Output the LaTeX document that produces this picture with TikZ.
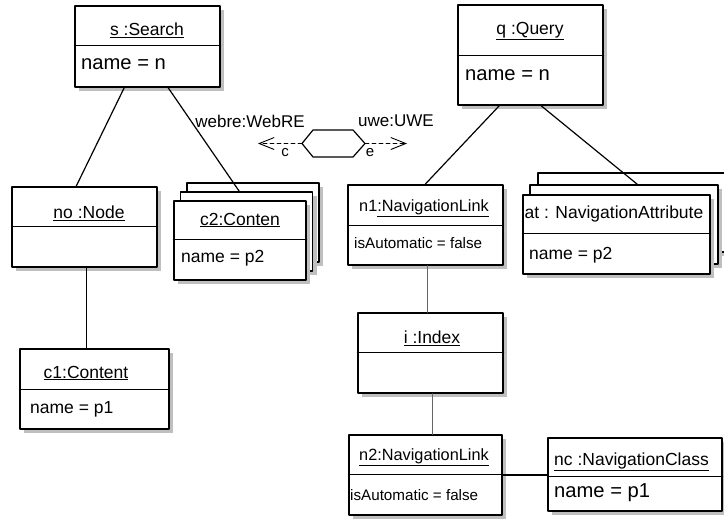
\documentclass[tikz,border=0pt]{standalone}
\usepackage{fontspec}
\setmainfont{Liberation Sans}
\usetikzlibrary{arrows.meta,calc}
\tikzset{
  obj/.style={rectangle, draw, fill=white, line width=1.6pt, inner sep=0pt,
    preaction={draw=none, fill=black!25, transform canvas={shift={(4pt,-4pt)}}}},
  ttl/.style={inner sep=1pt, font=\fontsize{17.5}{20}\selectfont},
  attr/.style={anchor=west, inner sep=1pt, font=\fontsize{17.5}{20}\selectfont},
  big/.style={font=\fontsize{20.2}{23}\selectfont},
  navt/.style={font=\fontsize{16.3}{19}\selectfont},
  nava/.style={font=\fontsize{15.2}{18}\selectfont},
  div/.style={line width=0.8pt},
  link/.style={line width=1.2pt},
  glink/.style={line width=1.2pt, black!60},
  dep/.style={line width=0.9pt, dash pattern=on 4pt off 3pt,
    -{Straight Barb[length=15pt, width=12pt]}},
  lbl/.style={inner sep=1pt, font=\fontsize{17}{20}\selectfont},
  every picture/.style={line cap=round, line join=round}
}

\begin{document}
\begin{tikzpicture}[x=1pt, y=-1pt]
    \useasboundingbox (0,0) rectangle (724,520);

    % left side
    \node[obj, minimum width=145, minimum height=81] (s) at (147.5,46.5) {};
    \draw[div] ($(s.north west)+(0,40)$) -- ($(s.north east)+(0,40)$);
    \node[ttl] (s-t) at (147,30) {\underline{s :Search}};
    \node[attr, big] (s-a) at (80,64) {name = n};

    \node[obj, minimum width=145, minimum height=80] (no) at (84.5,227) {};
    \draw[div] ($(no.north west)+(0,40)$) -- ($(no.north east)+(0,40)$);
    \node[ttl] (no-t) at (89,213) {\underline{no :Node}};

    \node[obj, minimum width=132, minimum height=79] (c2c) at (253,222.5) {};
    \node[obj, minimum width=132, minimum height=79] (c2b) at (246.5,231.5) {};
    \node[obj, minimum width=132, minimum height=79] (c2) at (240,240.5) {};
    \draw[div] ($(c2.north west)+(0,39)$) -- ($(c2.north east)+(0,39)$);
    \node[ttl] (c2-t) at (240,220) {\underline{c2:Conten}};
    \node[attr] (c2-a) at (180,258) {name = p2};

    \node[obj, minimum width=149, minimum height=80] (c1) at (94.5,389) {};
    \draw[div] ($(c1.north west)+(0,41)$) -- ($(c1.north east)+(0,41)$);
    \node[ttl] (c1-t) at (86,373) {\underline{c1:Content}};
    \node[attr] (c1-a) at (29,409) {name = p1};

    % right side
    \node[obj, minimum width=145, minimum height=100] (q) at (530.5,55) {};
    \draw[div] ($(q.north west)+(0,51)$) -- ($(q.north east)+(0,51)$);
    \node[ttl] (q-t) at (530,31) {\underline{q :Query}};
    \node[attr, big] (q-a) at (464,75) {name = n};

    \node[obj, minimum width=155, minimum height=80] (n1) at (425.5,225) {};
    \draw[div] ($(n1.north west)+(0,41)$) -- ($(n1.north east)+(0,41)$);
    \node[ttl, navt] (n1-t) at (424,208) {n1\underline{:NavigationLink}};
    \node[attr, nava] (n1-a) at (353,243) {isAutomatic = false};

    \node[obj, minimum width=188, minimum height=79] (atc) at (632,212.5) {};
    \node[obj, minimum width=188, minimum height=79] (atb) at (624,224.5) {};
    \node[obj, minimum width=187, minimum height=79] (at) at (616.5,234.5) {};
    \draw[div] ($(at.north west)+(0,39)$) -- ($(at.north east)+(0,39)$);
    \node[ttl] (at-t) at (614,214) {at : NavigationAttribute};
    \node[attr] (at-a) at (528,255) {name = p2};

    \node[obj, minimum width=145, minimum height=80] (i) at (430.5,353) {};
    \draw[div] ($(i.north west)+(0,40)$) -- ($(i.north east)+(0,40)$);
    \node[ttl] (i-t) at (432,338) {\underline{i :Index}};

    \node[obj, minimum width=153, minimum height=80] (n2) at (425.5,475) {};
    \draw[div] ($(n2.north west)+(0,40)$) -- ($(n2.north east)+(0,40)$);
    \node[ttl, navt] (n2-t) at (424,457) {\underline{n2:NavigationLink}};
    \node[attr, nava] (n2-a) at (349,495) {isAutomatic = false};

    \node[obj, minimum width=174, minimum height=73] (nc) at (635,474.5) {};
    \draw[div] ($(nc.north west)+(0,39)$) -- ($(nc.north east)+(0,39)$);
    \node[attr] (nc-t) at (553,462) {\underline{nc :NavigationClass}};
    \node[attr, big] (nc-a) at (553,493) {name = p1};

    % links
    \draw[link] ($(s.south west)+(50,0)$) -- ($(no.north west)+(65,0)$);
    \draw[link] ($(s.south west)+(94,0)$) -- ($(c2b.north west)+(59.5,0)$);
    \draw[link] ($(no.south west)+(75,0)$) -- ($(c1.north west)+(67,0)$);
    \draw[link] ($(q.south west)+(42,0)$) -- ($(n1.north west)+(78,0)$);
    \draw[link] ($(q.south west)+(84,0)$) -- ($(atb.north west)+(108,0)$);
    \draw[glink] ($(n1.south west)+(80,0)$) -- ($(i.north west)+(70,0)$);
    \draw[glink] ($(i.south west)+(75,0)$) -- ($(n2.north west)+(84,0)$);
    \draw[link] (n2.east) -- (n2.east -| nc.west);

    % webre / uwe
    \coordinate (hl) at (302,143.5);
    \coordinate (hr) at (365,143.5);
    \coordinate (ct) at (258,143.5);
    \coordinate (et) at (407,143.5);
    \draw[link] (hl) -- ++(11,-13.5) -- ++(40,0) -- (hr) -- ++(-12,13.5) -- ++(-40,0) -- cycle;
    \draw[dep] (hl) -- (ct);
    \draw[dep] (hr) -- (et);
    \node[lbl] (webre) at (250,121) {webre:WebRE};
    \node[lbl] (uwe) at (396,121) {uwe:UWE};
    \node[lbl, font=\fontsize{15}{18}\selectfont] (c) at (285,153) {c};
    \node[lbl, font=\fontsize{15}{18}\selectfont] (e) at (370,153) {e};
  \end{tikzpicture}
\end{document}
